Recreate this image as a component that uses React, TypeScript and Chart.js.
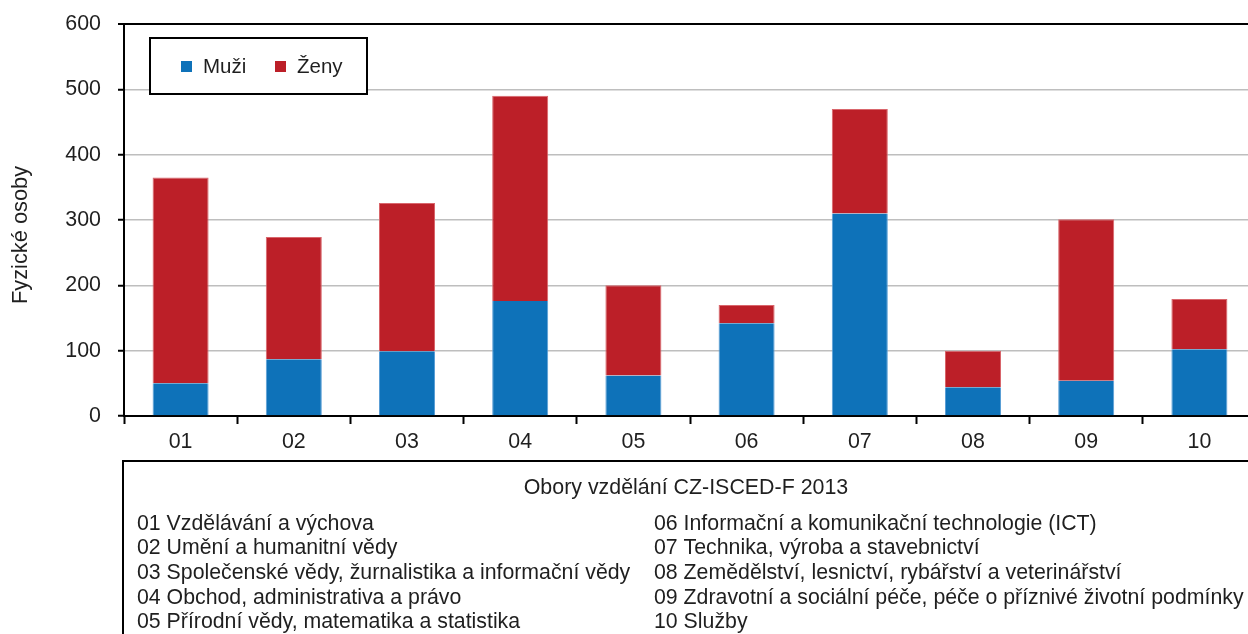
import React, { useEffect, useRef } from "react";
import { Chart, registerables } from "chart.js";

Chart.register(...registerables);

const categories = ["01", "02", "03", "04", "05", "06", "07", "08", "09", "10"];
const muzi = [50, 87, 99, 176, 62, 142, 310, 44, 54, 102];
const zeny = [315, 187, 227, 314, 138, 28, 160, 56, 247, 77];
const seriesLabels = ["Muži", "Ženy"];
const seriesColors = ["#0e72b9", "#bc1f28"];
const seriesBorders = ["#5b9fd6", "#d9666c"];
const yMin = 0;
const yMax = 600;
const yStep = 100;
const yTitle = "Fyzické osoby";
const boxTitle = "Obory vzdělání CZ-ISCED-F 2013";
const fieldsLeft = [
  "01 Vzdělávání a výchova",
  "02 Umění a humanitní vědy",
  "03 Společenské vědy, žurnalistika a informační vědy",
  "04 Obchod, administrativa a právo",
  "05 Přírodní vědy, matematika a statistika",
];
const fieldsRight = [
  "06 Informační a komunikační technologie (ICT)",
  "07 Technika, výroba a stavebnictví",
  "08 Zemědělství, lesnictví, rybářství a veterinářství",
  "09 Zdravotní a sociální péče, péče o příznivé životní podmínky",
  "10 Služby",
];

const FONT = "'Liberation Sans', Arial, sans-serif";
const TEXT = "#1f1f1f";

const overlayPlugin = {
  id: "overlay",
  afterDraw(chart: any) {
    const { ctx, chartArea } = chart;
    ctx.save();
    // y axis title
    ctx.save();
    ctx.translate(21, chartArea.top + 211);
    ctx.rotate(-Math.PI / 2);
    ctx.font = `21.8px ${FONT}`;
    ctx.fillStyle = TEXT;
    ctx.textAlign = "center";
    ctx.textBaseline = "middle";
    ctx.fillText(yTitle, 0, 0);
    ctx.restore();

    // legend box inside plot
    const lx = chartArea.left + 26;
    const ly = chartArea.top + 14;
    ctx.lineWidth = 2;
    ctx.strokeStyle = "#000";
    ctx.fillStyle = "#fff";
    ctx.fillRect(lx, ly, 217, 56);
    ctx.strokeRect(lx, ly, 217, 56);
    ctx.font = `20.5px ${FONT}`;
    ctx.textBaseline = "middle";
    ctx.textAlign = "left";
    const itemX = [lx + 31, lx + 125];
    chart.data.datasets.forEach((ds: any, i: number) => {
      ctx.fillStyle = ds.backgroundColor;
      ctx.fillRect(itemX[i], ly + 23, 11, 11);
      ctx.fillStyle = TEXT;
      ctx.fillText(ds.label, itemX[i] + 22, ly + 29);
    });

    // bottom description box
    const bx = chartArea.left - 1;
    const by = chartArea.bottom + 45;
    ctx.lineWidth = 2;
    ctx.strokeStyle = "#000";
    ctx.strokeRect(bx, by, 1400, 300);
    ctx.fillStyle = TEXT;
    ctx.font = `21.4px ${FONT}`;
    ctx.textAlign = "center";
    ctx.fillText(boxTitle, (chartArea.left + 1248) / 2, by + 27);
    ctx.textAlign = "left";
    ctx.font = `21.3px ${FONT}`;
    fieldsLeft.forEach((t, i) => ctx.fillText(t, bx + 14, by + 63 + i * 24.6));
    fieldsRight.forEach((t, i) => ctx.fillText(t, bx + 531, by + 63 + i * 24.6));
    ctx.restore();
  },
};

export default function App() {
  const ref = useRef<HTMLCanvasElement | null>(null);
  useEffect(() => {
    if (!ref.current) return;
    const chart = new Chart(ref.current, {
      type: "bar",
      data: {
        labels: categories,
        datasets: [
          {
            label: seriesLabels[0],
            data: muzi,
            backgroundColor: seriesColors[0],
            borderColor: seriesBorders[0],
            borderWidth: { left: 1, right: 1, top: 0, bottom: 0 } as any,
          },
          {
            label: seriesLabels[1],
            data: zeny,
            backgroundColor: seriesColors[1],
            borderColor: seriesBorders[1],
            borderWidth: { left: 1, right: 1, top: 1, bottom: 0 } as any,
          },
        ],
      },
      options: {
        animation: false,
        responsive: true,
        maintainAspectRatio: false,
        layout: { autoPadding: false, padding: { left: 0, right: 6, top: 24, bottom: 174 } },
        datasets: { bar: { categoryPercentage: 1, barPercentage: 0.495 } },
        plugins: { legend: { display: false }, tooltip: { enabled: false } },
        scales: {
          x: {
            stacked: true,
            offset: true,
            afterFit: (s: any) => {
              s.height = 44;
              s.paddingLeft = 0;
              s.paddingRight = 0;
            },
            grid: {
              offset: true,
              drawOnChartArea: false,
              drawTicks: true,
              tickLength: 8,
              tickColor: "#000",
              tickWidth: 2,
            },
            border: { color: "#000", width: 2 },
            ticks: { color: TEXT, font: { family: FONT, size: 21.4 }, padding: 5 },
          },
          y: {
            stacked: true,
            min: yMin,
            max: yMax,
            afterFit: (s: any) => {
              s.width = 124;
              s.paddingTop = 0;
              s.paddingBottom = 0;
            },
            ticks: {
              stepSize: yStep,
              color: TEXT,
              font: { family: FONT, size: 21.4 },
              padding: 17,
            },
            grid: {
              color: (c: any) => (c.tick && c.tick.value === yMax ? "#000" : "#bebebe"),
              lineWidth: (c: any) => (c.tick && c.tick.value === yMax ? 2 : 1.5),
              tickLength: 6,
              tickColor: "#000",
              tickWidth: 2,
            },
            border: { color: "#000", width: 2 },
            title: { display: false },
          },
        },
      },
      plugins: [overlayPlugin],
    });
    return () => chart.destroy();
  }, []);

  return (
    <div style={{ position: "fixed", left: 0, top: 0, width: 1248, height: 634, overflow: "hidden", background: "#fff" }}>
      <div style={{ position: "absolute", left: 0, top: 0, width: 1262, height: 634 }}>
        <canvas ref={ref} />
      </div>
    </div>
  );
}
